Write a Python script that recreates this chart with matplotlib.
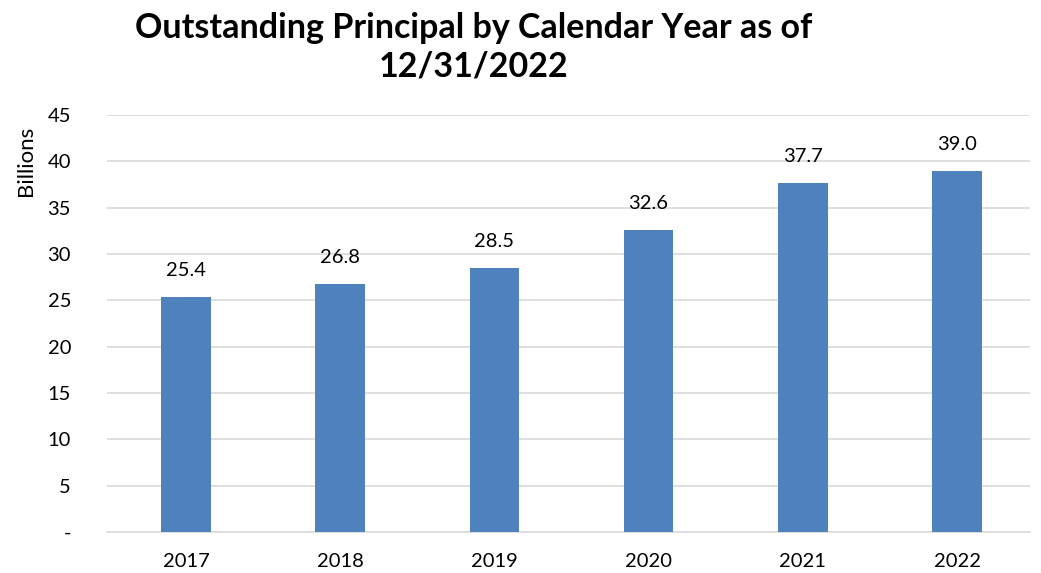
import numpy as np
import matplotlib.pyplot as plt

years = ['2017', '2018', '2019', '2020', '2021', '2022']
principal = [25.4, 26.8, 28.5, 32.6, 37.7, 39.0]
yticks = [0, 5, 10, 15, 20, 25, 30, 35, 40, 45]
ytick_labels = ['-', '5', '10', '15', '20', '25', '30', '35', '40', '45']

plt.rcParams['font.family'] = ['Lato', 'DejaVu Sans']

fig = plt.figure(figsize=(10.41, 5.73), dpi=100)
ax = fig.add_axes([0.103, 0.0716, 0.886, 0.7274])

x = np.arange(len(years))
bars = ax.bar(x, principal, width=0.32, color='#4F81BD', zorder=3)
for xi, v in zip(x, principal):
    ax.text(xi, v + 1.9, '%.1f' % v, ha='center', va='bottom', fontsize=14.5)

ax.set_xlim(-0.51, 5.47)
ax.set_ylim(0, 45)
ax.set_yticks(yticks)
ax.set_yticklabels(ytick_labels, fontsize=14.5)
ax.set_xticks(x)
ax.set_xticklabels(years, fontsize=14.5)
ax.tick_params(length=0)
ax.tick_params(axis='x', pad=15)
ax.tick_params(axis='y', pad=26)
ax.grid(axis='y', color='#D9D9D9', linewidth=1.2, zorder=0)
for s in ['top', 'right', 'left']:
    ax.spines[s].set_visible(False)
ax.spines['bottom'].set_color('#D9D9D9')
ax.spines['bottom'].set_linewidth(1.2)

fig.text(0.025, 0.72, 'Billions', rotation=90, ha='center', va='center', fontsize=16)
fig.text(0.455, 0.918, 'Outstanding Principal by Calendar Year as of\n12/31/2022',
         ha='center', va='center', fontsize=24.5, fontweight='bold', linespacing=1.25)

fig.savefig('out.png', dpi=100)
